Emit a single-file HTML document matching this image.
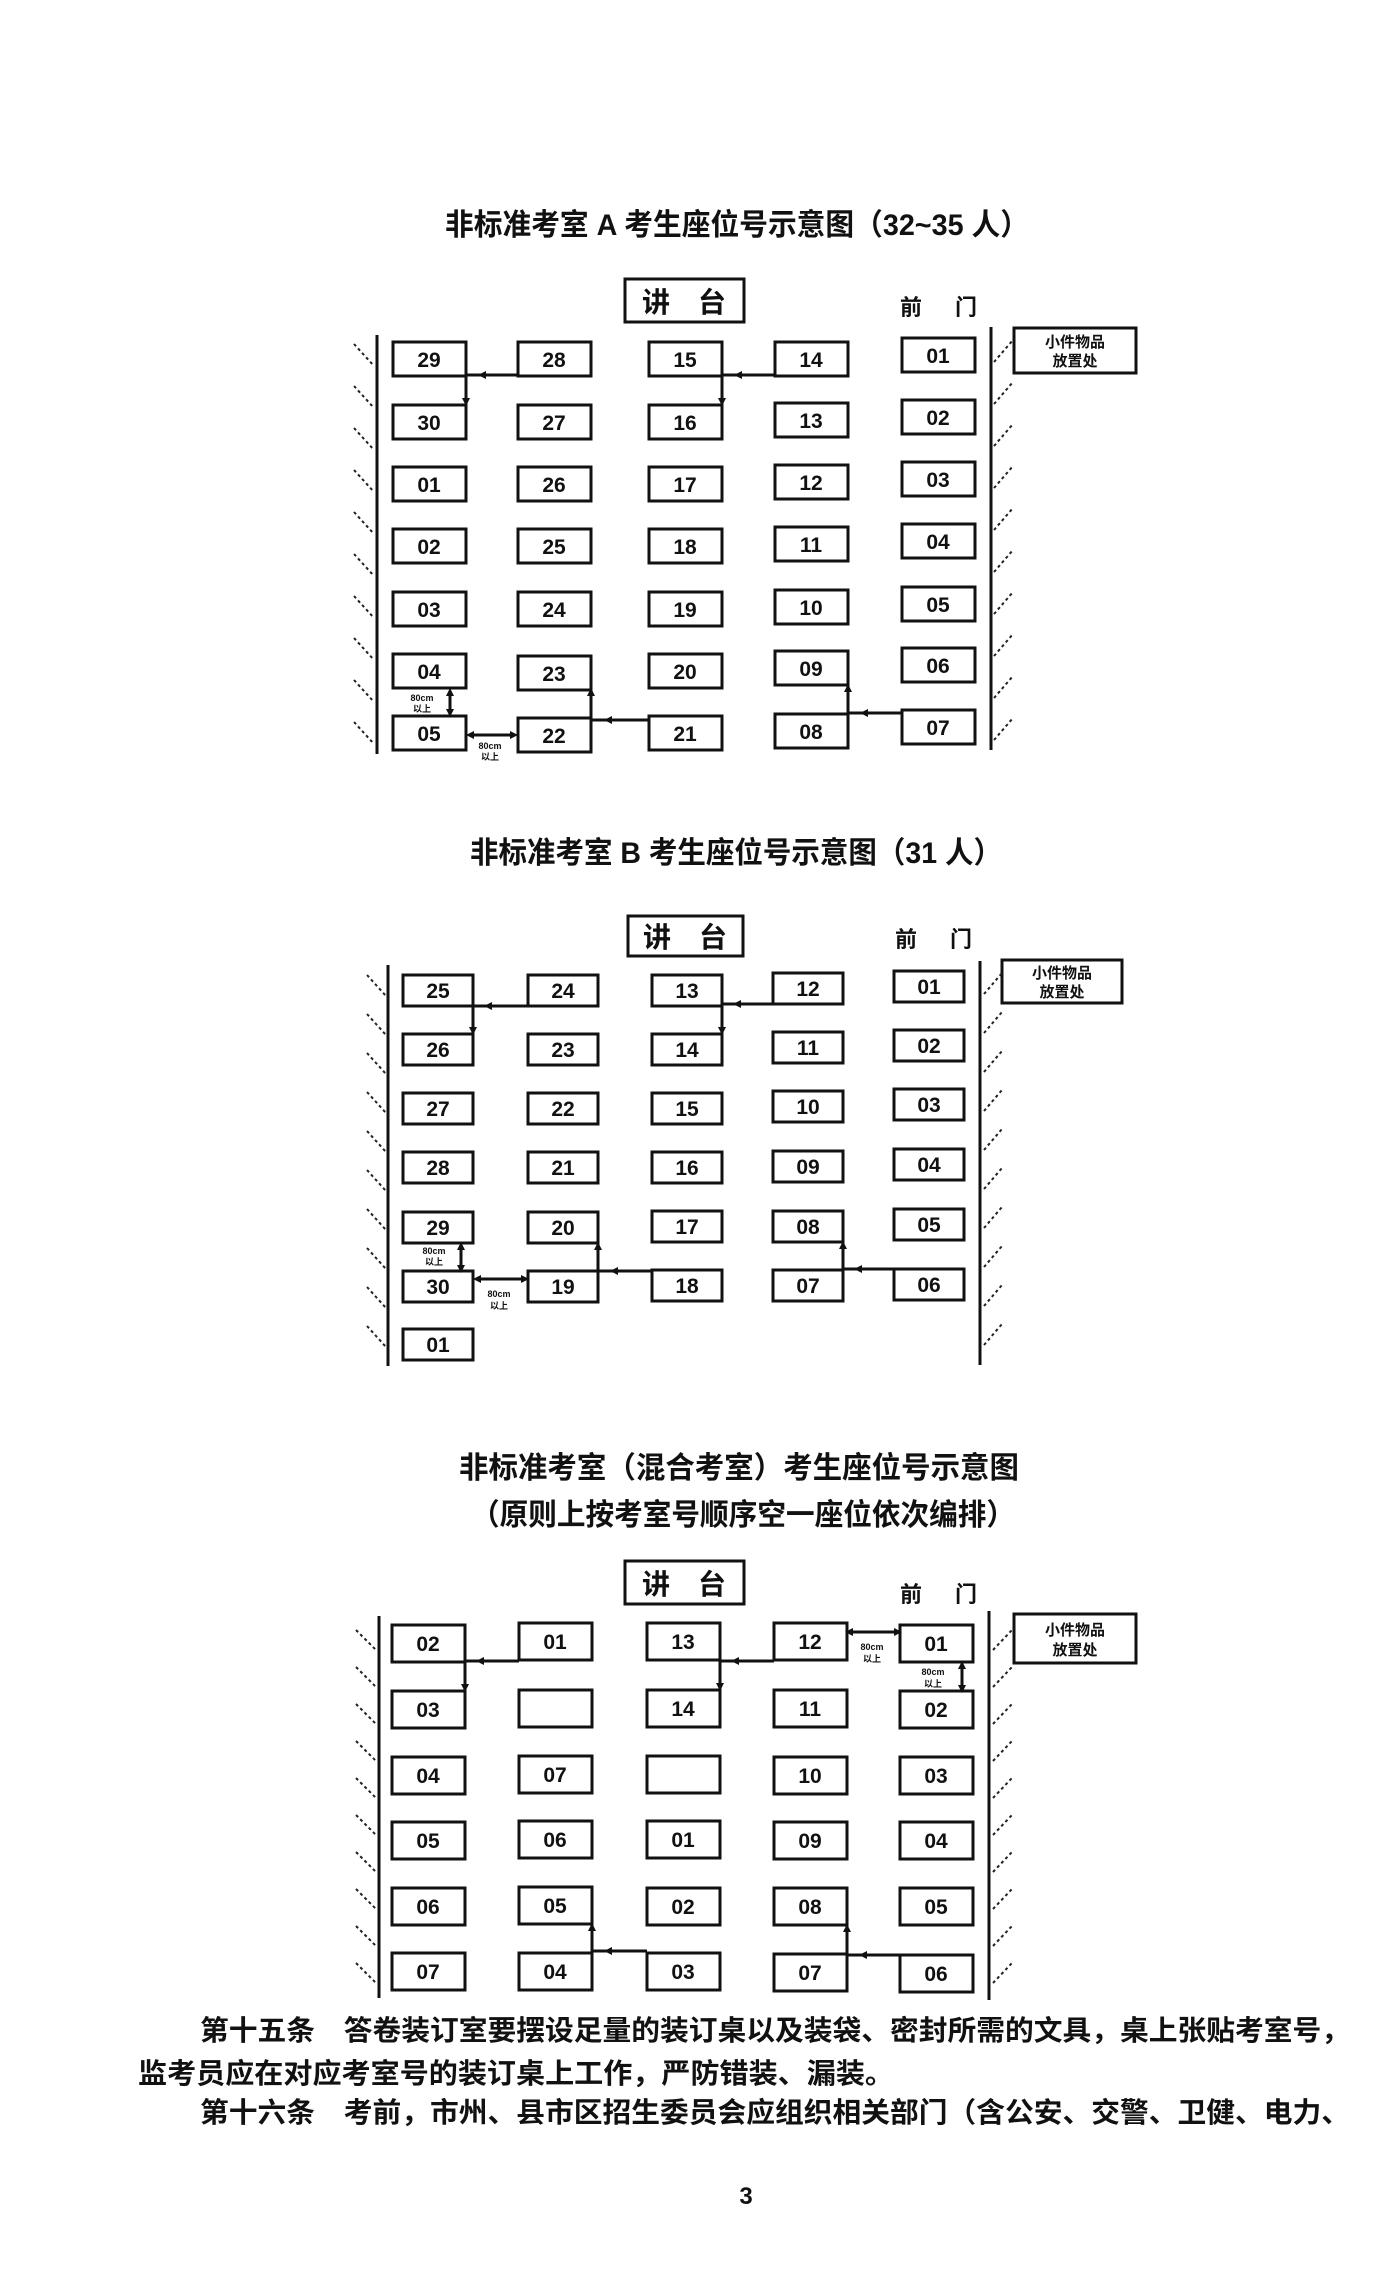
<!DOCTYPE html>
<html><head><meta charset="utf-8"><style>
html,body{margin:0;padding:0;background:#fff}
svg{display:block}
text{font-family:"Liberation Sans","Noto Sans CJK SC",sans-serif;fill:#111}
.b{fill:none;stroke:#111;stroke-width:3}
.n{font-size:21px;font-weight:bold;text-anchor:middle}
.w{stroke:#111;stroke-width:3}
.c{fill:none;stroke:#111;stroke-width:3}
.h{stroke:#222;stroke-width:2;stroke-dasharray:3 3}
.t{font-size:30px;font-weight:bold}
.s{font-size:9px;font-weight:bold;text-anchor:middle}
.sm{font-size:15px;font-weight:bold;text-anchor:middle}
</style></head><body>
<svg width="1384" height="2280" viewBox="0 0 1384 2280" xmlns="http://www.w3.org/2000/svg">
<defs>
<marker id="a" markerWidth="8" markerHeight="8" refX="6" refY="4" orient="auto" markerUnits="userSpaceOnUse"><path d="M0,0 L8,4 L0,8 z" fill="#111"/></marker>
<marker id="a2" markerWidth="8" markerHeight="8" refX="2" refY="4" orient="auto-start-reverse" markerUnits="userSpaceOnUse"><path d="M0,0 L8,4 L0,8 z" fill="#111"/></marker>
</defs>

<!-- ===== Diagram A ===== -->
<text class="t" x="445" y="235" textLength="584" lengthAdjust="spacingAndGlyphs">非标准考室 A 考生座位号示意图（32~35 人）</text>
<rect class="b" x="625" y="279" width="119" height="43"/>
<text x="642" y="312" font-size="28" font-weight="bold">讲　台</text>
<text x="900" y="315" font-size="22" font-weight="bold">前</text>
<text x="955" y="315" font-size="22" font-weight="bold">门</text>
<line class="w" x1="377" y1="335" x2="377" y2="754"/>
<line class="w" x1="991" y1="327" x2="991" y2="750"/>
<rect class="b" x="1014" y="328" width="122" height="45"/>
<text class="sm" x="1075" y="347">小件物品</text>
<text class="sm" x="1075" y="366">放置处</text>
<g>
<line class="h" x1="354" y1="344" x2="374" y2="366"/><line class="h" x1="354" y1="386" x2="374" y2="408"/><line class="h" x1="354" y1="428" x2="374" y2="450"/><line class="h" x1="354" y1="470" x2="374" y2="492"/><line class="h" x1="354" y1="512" x2="374" y2="534"/><line class="h" x1="354" y1="554" x2="374" y2="576"/><line class="h" x1="354" y1="596" x2="374" y2="618"/><line class="h" x1="354" y1="638" x2="374" y2="660"/><line class="h" x1="354" y1="680" x2="374" y2="702"/><line class="h" x1="354" y1="722" x2="374" y2="744"/>
<line class="h" x1="994" y1="362" x2="1013" y2="340"/><line class="h" x1="994" y1="404" x2="1013" y2="382"/><line class="h" x1="994" y1="446" x2="1013" y2="424"/><line class="h" x1="994" y1="488" x2="1013" y2="466"/><line class="h" x1="994" y1="530" x2="1013" y2="508"/><line class="h" x1="994" y1="572" x2="1013" y2="550"/><line class="h" x1="994" y1="614" x2="1013" y2="592"/><line class="h" x1="994" y1="656" x2="1013" y2="634"/><line class="h" x1="994" y1="698" x2="1013" y2="676"/><line class="h" x1="994" y1="740" x2="1013" y2="718"/>
</g>
<g>
<rect class="b" x="393" y="342" width="73" height="34"/><text class="n" x="429" y="367">29</text>
<rect class="b" x="518" y="342" width="73" height="34"/><text class="n" x="554" y="367">28</text>
<rect class="b" x="649" y="342" width="73" height="34"/><text class="n" x="685" y="367">15</text>
<rect class="b" x="775" y="342" width="73" height="34"/><text class="n" x="811" y="367">14</text>
<rect class="b" x="902" y="338" width="73" height="34"/><text class="n" x="938" y="363">01</text>

<rect class="b" x="393" y="405" width="73" height="34"/><text class="n" x="429" y="430">30</text>
<rect class="b" x="518" y="405" width="73" height="34"/><text class="n" x="554" y="430">27</text>
<rect class="b" x="649" y="405" width="73" height="34"/><text class="n" x="685" y="430">16</text>
<rect class="b" x="775" y="403" width="73" height="34"/><text class="n" x="811" y="428">13</text>
<rect class="b" x="902" y="400" width="73" height="34"/><text class="n" x="938" y="425">02</text>

<rect class="b" x="393" y="467" width="73" height="34"/><text class="n" x="429" y="492">01</text>
<rect class="b" x="518" y="467" width="73" height="34"/><text class="n" x="554" y="492">26</text>
<rect class="b" x="649" y="467" width="73" height="34"/><text class="n" x="685" y="492">17</text>
<rect class="b" x="775" y="465" width="73" height="34"/><text class="n" x="811" y="490">12</text>
<rect class="b" x="902" y="462" width="73" height="34"/><text class="n" x="938" y="487">03</text>

<rect class="b" x="393" y="529" width="73" height="34"/><text class="n" x="429" y="554">02</text>
<rect class="b" x="518" y="529" width="73" height="34"/><text class="n" x="554" y="554">25</text>
<rect class="b" x="649" y="529" width="73" height="34"/><text class="n" x="685" y="554">18</text>
<rect class="b" x="775" y="527" width="73" height="34"/><text class="n" x="811" y="552">11</text>
<rect class="b" x="902" y="524" width="73" height="34"/><text class="n" x="938" y="549">04</text>

<rect class="b" x="393" y="592" width="73" height="34"/><text class="n" x="429" y="617">03</text>
<rect class="b" x="518" y="592" width="73" height="34"/><text class="n" x="554" y="617">24</text>
<rect class="b" x="649" y="592" width="73" height="34"/><text class="n" x="685" y="617">19</text>
<rect class="b" x="775" y="590" width="73" height="34"/><text class="n" x="811" y="615">10</text>
<rect class="b" x="902" y="587" width="73" height="34"/><text class="n" x="938" y="612">05</text>

<rect class="b" x="393" y="654" width="73" height="34"/><text class="n" x="429" y="679">04</text>
<rect class="b" x="518" y="656" width="73" height="34"/><text class="n" x="554" y="681">23</text>
<rect class="b" x="649" y="654" width="73" height="34"/><text class="n" x="685" y="679">20</text>
<rect class="b" x="775" y="651" width="73" height="34"/><text class="n" x="811" y="676">09</text>
<rect class="b" x="902" y="648" width="73" height="34"/><text class="n" x="938" y="673">06</text>

<rect class="b" x="393" y="716" width="73" height="34"/><text class="n" x="429" y="741">05</text>
<rect class="b" x="518" y="718" width="73" height="34"/><text class="n" x="554" y="743">22</text>
<rect class="b" x="649" y="716" width="73" height="34"/><text class="n" x="685" y="741">21</text>
<rect class="b" x="775" y="714" width="73" height="34"/><text class="n" x="811" y="739">08</text>
<rect class="b" x="902" y="710" width="73" height="34"/><text class="n" x="938" y="735">07</text>
</g>
<path class="c" d="M518,375 H466 V404" marker-end="url(#a)"/>
<path d="M478,375 l8,-4 v8 z" fill="#111"/>
<path class="c" d="M775,375 H722 V404" marker-end="url(#a)"/>
<path d="M734,375 l8,-4 v8 z" fill="#111"/>
<path class="c" d="M649,720 H591 V690" marker-end="url(#a)"/>
<path d="M604,720 l8,-4 v8 z" fill="#111"/>
<path class="c" d="M902,713 H848 V686" marker-end="url(#a)"/>
<path d="M860,713 l8,-4 v8 z" fill="#111"/>
<line stroke="#111" stroke-width="3" x1="450" y1="694" x2="450" y2="711" marker-start="url(#a2)" marker-end="url(#a2)"/>
<text class="s" x="422" y="701">80cm</text><text class="s" x="422" y="712">以上</text>
<line stroke="#111" stroke-width="3" x1="472" y1="735" x2="512" y2="735" marker-start="url(#a2)" marker-end="url(#a2)"/>
<text class="s" x="490" y="749">80cm</text><text class="s" x="490" y="760">以上</text>

<!-- ===== Diagram B ===== -->
<text class="t" x="470" y="863" textLength="532" lengthAdjust="spacingAndGlyphs">非标准考室 B 考生座位号示意图（31 人）</text>
<rect class="b" x="628" y="916" width="115" height="40"/>
<text x="643" y="947" font-size="28" font-weight="bold">讲　台</text>
<text x="895" y="947" font-size="22" font-weight="bold">前</text>
<text x="950" y="947" font-size="22" font-weight="bold">门</text>
<line class="w" x1="388" y1="965" x2="388" y2="1366"/>
<line class="w" x1="980" y1="961" x2="980" y2="1365"/>
<rect class="b" x="1002" y="960" width="120" height="43"/>
<text class="sm" x="1062" y="978">小件物品</text>
<text class="sm" x="1062" y="997">放置处</text>
<g>
<line class="h" x1="367" y1="975" x2="386" y2="996"/><line class="h" x1="367" y1="1014" x2="386" y2="1035"/><line class="h" x1="367" y1="1053" x2="386" y2="1074"/><line class="h" x1="367" y1="1092" x2="386" y2="1113"/><line class="h" x1="367" y1="1131" x2="386" y2="1152"/><line class="h" x1="367" y1="1170" x2="386" y2="1191"/><line class="h" x1="367" y1="1209" x2="386" y2="1230"/><line class="h" x1="367" y1="1248" x2="386" y2="1269"/><line class="h" x1="367" y1="1287" x2="386" y2="1308"/><line class="h" x1="367" y1="1326" x2="386" y2="1347"/>
<line class="h" x1="984" y1="994" x2="1002" y2="973"/><line class="h" x1="984" y1="1033" x2="1002" y2="1012"/><line class="h" x1="984" y1="1072" x2="1002" y2="1051"/><line class="h" x1="984" y1="1111" x2="1002" y2="1090"/><line class="h" x1="984" y1="1150" x2="1002" y2="1129"/><line class="h" x1="984" y1="1189" x2="1002" y2="1168"/><line class="h" x1="984" y1="1228" x2="1002" y2="1207"/><line class="h" x1="984" y1="1267" x2="1002" y2="1246"/><line class="h" x1="984" y1="1306" x2="1002" y2="1285"/><line class="h" x1="984" y1="1345" x2="1002" y2="1324"/>
</g>
<g>
<rect class="b" x="403" y="975" width="70" height="31"/><text class="n" x="438" y="998">25</text>
<rect class="b" x="528" y="975" width="70" height="31"/><text class="n" x="563" y="998">24</text>
<rect class="b" x="652" y="975" width="70" height="31"/><text class="n" x="687" y="998">13</text>
<rect class="b" x="773" y="973" width="70" height="31"/><text class="n" x="808" y="996">12</text>
<rect class="b" x="894" y="971" width="70" height="31"/><text class="n" x="929" y="994">01</text>

<rect class="b" x="403" y="1034" width="70" height="31"/><text class="n" x="438" y="1057">26</text>
<rect class="b" x="528" y="1034" width="70" height="31"/><text class="n" x="563" y="1057">23</text>
<rect class="b" x="652" y="1034" width="70" height="31"/><text class="n" x="687" y="1057">14</text>
<rect class="b" x="773" y="1032" width="70" height="31"/><text class="n" x="808" y="1055">11</text>
<rect class="b" x="894" y="1030" width="70" height="31"/><text class="n" x="929" y="1053">02</text>

<rect class="b" x="403" y="1093" width="70" height="31"/><text class="n" x="438" y="1116">27</text>
<rect class="b" x="528" y="1093" width="70" height="31"/><text class="n" x="563" y="1116">22</text>
<rect class="b" x="652" y="1093" width="70" height="31"/><text class="n" x="687" y="1116">15</text>
<rect class="b" x="773" y="1091" width="70" height="31"/><text class="n" x="808" y="1114">10</text>
<rect class="b" x="894" y="1089" width="70" height="31"/><text class="n" x="929" y="1112">03</text>

<rect class="b" x="403" y="1152" width="70" height="31"/><text class="n" x="438" y="1175">28</text>
<rect class="b" x="528" y="1152" width="70" height="31"/><text class="n" x="563" y="1175">21</text>
<rect class="b" x="652" y="1152" width="70" height="31"/><text class="n" x="687" y="1175">16</text>
<rect class="b" x="773" y="1151" width="70" height="31"/><text class="n" x="808" y="1174">09</text>
<rect class="b" x="894" y="1149" width="70" height="31"/><text class="n" x="929" y="1172">04</text>

<rect class="b" x="403" y="1212" width="70" height="31"/><text class="n" x="438" y="1235">29</text>
<rect class="b" x="528" y="1212" width="70" height="31"/><text class="n" x="563" y="1235">20</text>
<rect class="b" x="652" y="1211" width="70" height="31"/><text class="n" x="687" y="1234">17</text>
<rect class="b" x="773" y="1211" width="70" height="31"/><text class="n" x="808" y="1234">08</text>
<rect class="b" x="894" y="1209" width="70" height="31"/><text class="n" x="929" y="1232">05</text>

<rect class="b" x="403" y="1271" width="70" height="31"/><text class="n" x="438" y="1294">30</text>
<rect class="b" x="528" y="1271" width="70" height="31"/><text class="n" x="563" y="1294">19</text>
<rect class="b" x="652" y="1270" width="70" height="31"/><text class="n" x="687" y="1293">18</text>
<rect class="b" x="773" y="1270" width="70" height="31"/><text class="n" x="808" y="1293">07</text>
<rect class="b" x="894" y="1269" width="70" height="31"/><text class="n" x="929" y="1292">06</text>

<rect class="b" x="403" y="1329" width="70" height="31"/><text class="n" x="438" y="1352">01</text>
</g>
<path class="c" d="M528,1006 H473 V1033" marker-end="url(#a)"/>
<path d="M484,1006 l8,-4 v8 z" fill="#111"/>
<path class="c" d="M773,1004 H722 V1033" marker-end="url(#a)"/>
<path d="M733,1004 l8,-4 v8 z" fill="#111"/>
<path class="c" d="M652,1271 H598 V1244" marker-end="url(#a)"/>
<path d="M610,1271 l8,-4 v8 z" fill="#111"/>
<path class="c" d="M894,1269 H843 V1243" marker-end="url(#a)"/>
<path d="M854,1269 l8,-4 v8 z" fill="#111"/>
<line stroke="#111" stroke-width="3" x1="461" y1="1248" x2="461" y2="1267" marker-start="url(#a2)" marker-end="url(#a2)"/>
<text class="s" x="434" y="1254">80cm</text><text class="s" x="434" y="1265">以上</text>
<line stroke="#111" stroke-width="3" x1="479" y1="1279" x2="523" y2="1279" marker-start="url(#a2)" marker-end="url(#a2)"/>
<text class="s" x="499" y="1297">80cm</text><text class="s" x="499" y="1309">以上</text>

<!-- ===== Diagram Mixed ===== -->
<text class="t" x="459" y="1478" textLength="560" lengthAdjust="spacingAndGlyphs">非标准考室（混合考室）考生座位号示意图</text>
<text class="t" x="471" y="1525" textLength="544" lengthAdjust="spacingAndGlyphs">（原则上按考室号顺序空一座位依次编排）</text>
<rect class="b" x="625" y="1561" width="119" height="43"/>
<text x="642" y="1594" font-size="28" font-weight="bold">讲　台</text>
<text x="900" y="1602" font-size="22" font-weight="bold">前</text>
<text x="955" y="1602" font-size="22" font-weight="bold">门</text>
<line class="w" x1="379" y1="1616" x2="379" y2="1998"/>
<line class="w" x1="989" y1="1611" x2="989" y2="2000"/>
<rect class="b" x="1014" y="1614" width="122" height="49"/>
<text class="sm" x="1075" y="1635">小件物品</text>
<text class="sm" x="1075" y="1655">放置处</text>
<g>
<line class="h" x1="356" y1="1630" x2="376" y2="1650"/><line class="h" x1="356" y1="1667" x2="376" y2="1687"/><line class="h" x1="356" y1="1704" x2="376" y2="1724"/><line class="h" x1="356" y1="1741" x2="376" y2="1761"/><line class="h" x1="356" y1="1778" x2="376" y2="1798"/><line class="h" x1="356" y1="1815" x2="376" y2="1835"/><line class="h" x1="356" y1="1852" x2="376" y2="1872"/><line class="h" x1="356" y1="1889" x2="376" y2="1909"/><line class="h" x1="356" y1="1926" x2="376" y2="1946"/><line class="h" x1="356" y1="1963" x2="376" y2="1983"/>
<line class="h" x1="993" y1="1650" x2="1012" y2="1630"/><line class="h" x1="993" y1="1687" x2="1012" y2="1667"/><line class="h" x1="993" y1="1724" x2="1012" y2="1704"/><line class="h" x1="993" y1="1761" x2="1012" y2="1741"/><line class="h" x1="993" y1="1798" x2="1012" y2="1778"/><line class="h" x1="993" y1="1835" x2="1012" y2="1815"/><line class="h" x1="993" y1="1872" x2="1012" y2="1852"/><line class="h" x1="993" y1="1909" x2="1012" y2="1889"/><line class="h" x1="993" y1="1946" x2="1012" y2="1926"/><line class="h" x1="993" y1="1983" x2="1012" y2="1963"/>
</g>
<g>
<rect class="b" x="392" y="1625" width="73" height="37"/><text class="n" x="428" y="1651">02</text>
<rect class="b" x="519" y="1623" width="73" height="37"/><text class="n" x="555" y="1649">01</text>
<rect class="b" x="647" y="1623" width="73" height="37"/><text class="n" x="683" y="1649">13</text>
<rect class="b" x="774" y="1623" width="73" height="37"/><text class="n" x="810" y="1649">12</text>
<rect class="b" x="900" y="1625" width="73" height="37"/><text class="n" x="936" y="1651">01</text>

<rect class="b" x="392" y="1691" width="73" height="37"/><text class="n" x="428" y="1717">03</text>
<rect class="b" x="519" y="1690" width="73" height="37"/>
<rect class="b" x="647" y="1690" width="73" height="37"/><text class="n" x="683" y="1716">14</text>
<rect class="b" x="774" y="1690" width="73" height="37"/><text class="n" x="810" y="1716">11</text>
<rect class="b" x="900" y="1691" width="73" height="37"/><text class="n" x="936" y="1717">02</text>

<rect class="b" x="392" y="1757" width="73" height="37"/><text class="n" x="428" y="1783">04</text>
<rect class="b" x="519" y="1756" width="73" height="37"/><text class="n" x="555" y="1782">07</text>
<rect class="b" x="647" y="1756" width="73" height="37"/>
<rect class="b" x="774" y="1757" width="73" height="37"/><text class="n" x="810" y="1783">10</text>
<rect class="b" x="900" y="1757" width="73" height="37"/><text class="n" x="936" y="1783">03</text>

<rect class="b" x="392" y="1822" width="73" height="37"/><text class="n" x="428" y="1848">05</text>
<rect class="b" x="519" y="1821" width="73" height="37"/><text class="n" x="555" y="1847">06</text>
<rect class="b" x="647" y="1821" width="73" height="37"/><text class="n" x="683" y="1847">01</text>
<rect class="b" x="774" y="1822" width="73" height="37"/><text class="n" x="810" y="1848">09</text>
<rect class="b" x="900" y="1822" width="73" height="37"/><text class="n" x="936" y="1848">04</text>

<rect class="b" x="392" y="1888" width="73" height="37"/><text class="n" x="428" y="1914">06</text>
<rect class="b" x="519" y="1887" width="73" height="37"/><text class="n" x="555" y="1913">05</text>
<rect class="b" x="647" y="1888" width="73" height="37"/><text class="n" x="683" y="1914">02</text>
<rect class="b" x="774" y="1888" width="73" height="37"/><text class="n" x="810" y="1914">08</text>
<rect class="b" x="900" y="1888" width="73" height="37"/><text class="n" x="936" y="1914">05</text>

<rect class="b" x="392" y="1953" width="73" height="37"/><text class="n" x="428" y="1979">07</text>
<rect class="b" x="519" y="1953" width="73" height="37"/><text class="n" x="555" y="1979">04</text>
<rect class="b" x="647" y="1953" width="73" height="37"/><text class="n" x="683" y="1979">03</text>
<rect class="b" x="774" y="1954" width="73" height="37"/><text class="n" x="810" y="1980">07</text>
<rect class="b" x="900" y="1955" width="73" height="37"/><text class="n" x="936" y="1981">06</text>
</g>
<path class="c" d="M519,1661 H465 V1690" marker-end="url(#a)"/>
<path d="M476,1661 l8,-4 v8 z" fill="#111"/>
<path class="c" d="M774,1661 H720 V1689" marker-end="url(#a)"/>
<path d="M731,1661 l8,-4 v8 z" fill="#111"/>
<path class="c" d="M647,1951 H592 V1925" marker-end="url(#a)"/>
<path d="M604,1951 l8,-4 v8 z" fill="#111"/>
<path class="c" d="M900,1955 H847 V1926" marker-end="url(#a)"/>
<path d="M859,1955 l8,-4 v8 z" fill="#111"/>
<line stroke="#111" stroke-width="3" x1="851" y1="1632" x2="896" y2="1632" marker-start="url(#a2)" marker-end="url(#a2)"/>
<text class="s" x="872" y="1650">80cm</text><text class="s" x="872" y="1662">以上</text>
<line stroke="#111" stroke-width="3" x1="962" y1="1667" x2="962" y2="1687" marker-start="url(#a2)" marker-end="url(#a2)"/>
<text class="s" x="933" y="1675">80cm</text><text class="s" x="933" y="1687">以上</text>

<!-- ===== Text ===== -->
<text x="200" y="2040" font-size="28" font-weight="bold" textLength="1150" lengthAdjust="spacingAndGlyphs">第十五条　答卷装订室要摆设足量的装订桌以及装袋、密封所需的文具，桌上张贴考室号，</text>
<text x="138" y="2083" font-size="28" font-weight="bold" textLength="756" lengthAdjust="spacingAndGlyphs">监考员应在对应考室号的装订桌上工作，严防错装、漏装。</text>
<text x="200" y="2122" font-size="28" font-weight="bold" textLength="1150" lengthAdjust="spacingAndGlyphs">第十六条　考前，市州、县市区招生委员会应组织相关部门（含公安、交警、卫健、电力、</text>
<text x="746" y="2204" font-size="24" font-weight="bold" text-anchor="middle">3</text>
</svg>
</body></html>
